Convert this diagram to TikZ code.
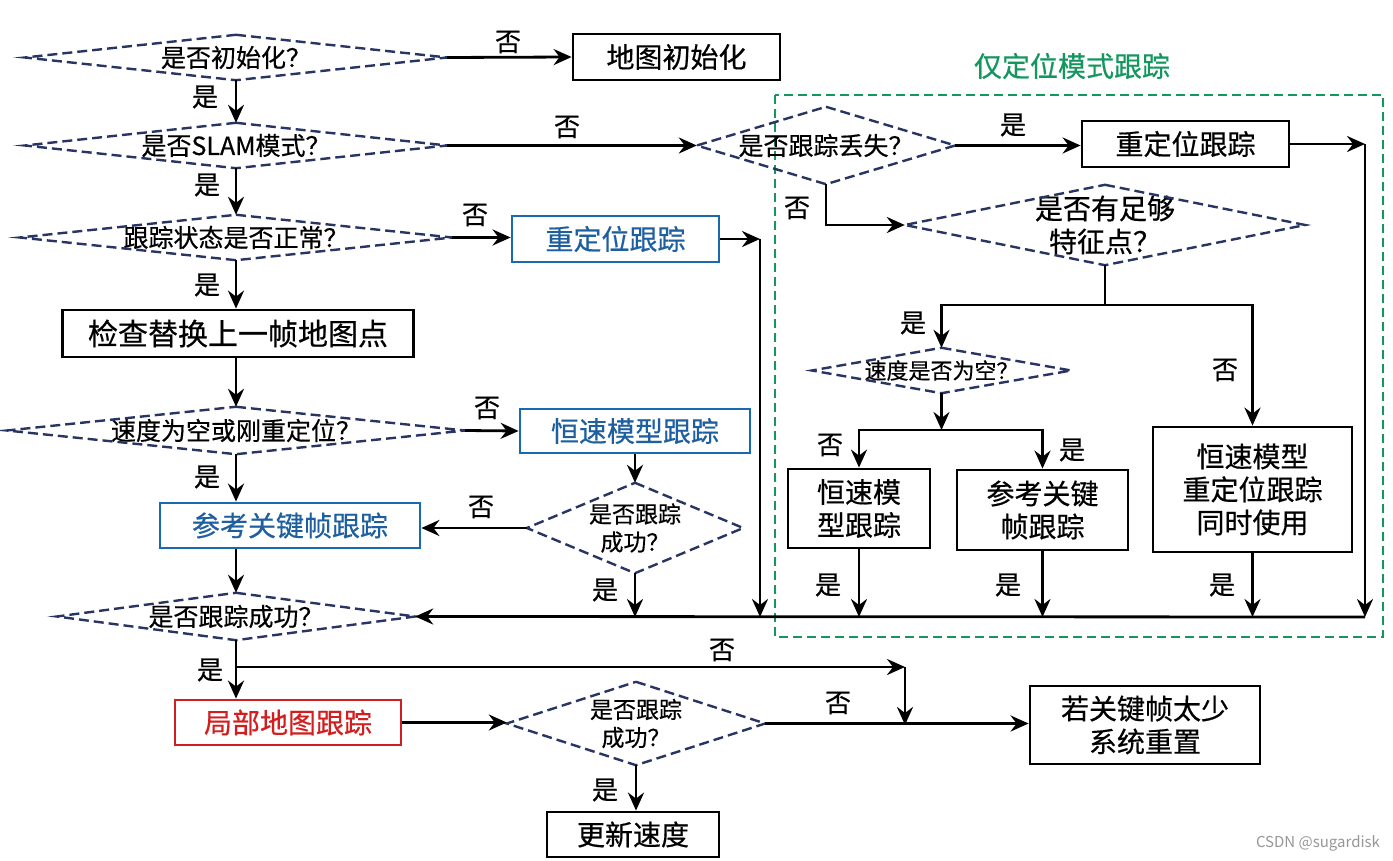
\documentclass[tikz,border=0pt]{standalone}
\usepackage{fontspec}
\setmainfont[FakeBold=0.5,AutoFakeBold=0.5]{Noto Sans CJK SC}
\newfontfamily\wmfont{Noto Sans CJK SC}
\usetikzlibrary{arrows.meta}
\definecolor{navy}{RGB}{40,52,98}
\definecolor{bblue}{RGB}{25,105,175}
\definecolor{tblue}{RGB}{30,95,160}
\definecolor{rred}{RGB}{210,30,30}
\definecolor{ggreen}{RGB}{20,150,95}
\definecolor{wgrey}{RGB}{150,150,150}
\begin{document}
\begin{tikzpicture}[x=1pt,y=-1pt,
  box/.style={draw=black, line width=2.8pt, inner sep=0pt, font=\fontsize{28}{33}\selectfont, align=center},
  bluebox/.style={box, draw=bblue, text=tblue},
  redbox/.style={box, draw=rred, text=rred},
  dia/.style={inner sep=0pt, font=\fontsize{25}{30}\selectfont, align=center},
  diaedge/.style={draw=navy, line width=2.4pt, dash pattern=on 10pt off 5pt, line join=miter},
  ln/.style={line width=2.8pt},
  arr/.style={line width=2.8pt, -{Stealth[length=18pt,width=16pt,inset=6pt]}},
  lab/.style={inner sep=0pt, font=\fontsize{26}{30}\selectfont}
]
\useasboundingbox (0,0) rectangle (1393,861);

% group frame
\draw[ggreen, line width=2.8pt, dash pattern=on 9pt off 5pt] (775,95) rectangle (1383,637);
\node[text=ggreen, font=\fontsize{28}{33}\selectfont] (title) at (1072,66) {仅定位模式跟踪};

% boxes
\node[box, minimum width=207, minimum height=46] (binit) at (676.5,57) {地图初始化};
\node[box, minimum width=351, minimum height=47, font=\fontsize{30}{34}\selectfont] (bcheck) at (238,333.5) {检查替换上一帧地图点};
\node[bluebox, minimum width=260, minimum height=45] (bref) at (290,525.5) {参考关键帧跟踪};
\node[redbox, minimum width=226, minimum height=45] (blocal) at (288,722.5) {局部地图跟踪};
\node[box, minimum width=230, minimum height=78] (breset) at (1145,725) {若关键帧太少\\系统重置};
\node[box, minimum width=172, minimum height=45] (bspeed) at (633,834.5) {更新速度};
\node[bluebox, minimum width=207, minimum height=46] (breloca) at (615.5,239) {重定位跟踪};
\node[bluebox, minimum width=230, minimum height=44] (bcv) at (635,431) {恒速模型跟踪};
\node[box, minimum width=207, minimum height=46] (brelocb) at (1185.5,144) {重定位跟踪};
\node[box, minimum width=142, minimum height=79] (bcvb) at (859,508.5) {恒速模\\型跟踪};
\node[box, minimum width=171, minimum height=80] (brefb) at (1042.5,510) {参考关键\\帧跟踪};
\node[box, minimum width=199, minimum height=125] (bboth) at (1252.5,489.5) {恒速模型\\重定位跟踪\\同时使用};

% decisions
\node[dia, minimum width=422, minimum height=45] (d1) at (236,57.5) {是否初始化？};
\node[dia, minimum width=422, minimum height=45] (d2) at (236,145.5) {是否SLAM模式？};
\node[dia, minimum width=432, minimum height=45] (d3) at (236,237.5) {跟踪状态是否正常？};
\node[dia, minimum width=458, minimum height=47] (d4) at (236,430.5) {速度为空或刚重定位？};
\node[dia, minimum width=358, minimum height=47] (d5) at (236,616.5) {是否跟踪成功？};
\node[dia, minimum width=258, minimum height=83, font=\fontsize{23}{28}\selectfont] (d6) at (636,723.5) {是否跟踪\\成功？};
\node[dia, minimum width=258, minimum height=77] (d7) at (826,145.5) {是否跟踪丢失？};
\node[dia, minimum width=400, minimum height=80, font=\fontsize{28}{33}\selectfont] (d8) at (1105,225) {是否有足够\\特征点？};
\node[dia, minimum width=259, minimum height=45, font=\fontsize{22}{26}\selectfont] (d9) at (941.5,370.5) {速度是否为空？};
\node[dia, minimum width=216, minimum height=90, font=\fontsize{23}{28}\selectfont] (d10) at (635,528) {是否跟踪\\成功？};
\foreach \n in {d1,d2,d3,d4,d5,d6,d7,d8,d9,d10}
  \draw[diaedge] (\n.north) -- (\n.east) -- (\n.south) -- (\n.west) -- cycle;

% junction points
\coordinate (ret) at (1365,617);
\coordinate (ra) at (760,239);
\coordinate (rb) at (1365,144);
\coordinate (j1) at (1105,305);
\coordinate (j2) at (941.5,430);
\coordinate (j3) at (236,667);
\coordinate (j4) at (905,667);

% main column
\draw[arr] (d1.east) -- (binit.west);
\draw[arr] (d1.south) -- (d2.north);
\draw[arr] (d2.east) -- (d7.west);
\draw[arr] (d2.south) -- (d3.north);
\draw[arr] (d3.east) -- (d3.east -| breloca.west);
\draw[arr] (d3.south) -- (d3.south |- bcheck.north);
\draw[arr] (d4.north |- bcheck.south) -- (d4.north);
\draw[arr] (d4.east) -- (bcv.west);
\draw[arr] (d4.south) -- (d4.south |- bref.north);
\draw[arr] (bcv.south) -- (d10.north);
\draw[arr] (d10.west) -- (d10.west -| bref.east);
\draw[arr] (d10.south) -- (d10.south |- ret);
\draw[arr] (d5.north |- bref.south) -- (d5.north);
\draw[arr] (breloca.east) -- (ra);
\draw[arr] (ra) -- (ra |- ret);
\draw[arr] (ret) -- (d5.east);
\draw[arr] (d5.south) -- (d5.south |- blocal.north);
\draw[arr] (j3) -- (j4);
\draw[arr] (j4) -- (j4 |- breset.west);
\draw[arr] (blocal.east) -- (blocal.east -| d6.west);
\draw[arr] (d6.east) -- (d6.east -| breset.west);
\draw[arr] (d6.south) -- (d6.south |- bspeed.north);

% localization-only branch
\draw[arr] (d7.east) -- (d7.east -| brelocb.west);
\draw[arr] (brelocb.east) -- (rb);
\draw[arr] (rb) -- (ret);
\draw[arr] (d7.south) |- (d8.west);
\draw[ln] (d8.south) -- (j1);
\draw[arr] (j1) -| (d9.north);
\draw[arr] (j1) -| (bboth.north);
\draw[arr] (d9.south) -- (j2);
\draw[arr] (j2) -| (bcvb.north);
\draw[arr] (j2) -| (brefb.north);
\draw[arr] (bcvb.south) -- (bcvb.south |- ret);
\draw[arr] (brefb.south) -- (brefb.south |- ret);
\draw[arr] (bboth.south) -- (bboth.south |- ret);

% labels
\node[lab] (l1) at (508,42) {否};
\node[lab] (l2) at (205,97) {是};
\node[lab] (l3) at (567,127) {否};
\node[lab] (l4) at (207,185) {是};
\node[lab] (l5) at (475,215) {否};
\node[lab] (l6) at (207,285) {是};
\node[lab] (l7) at (487,408) {否};
\node[lab] (l8) at (207,477) {是};
\node[lab] (l9) at (481,507) {否};
\node[lab] (l10) at (605,590) {是};
\node[lab] (l11) at (210,670) {是};
\node[lab] (l12) at (722,650) {否};
\node[lab] (l13) at (838,703) {否};
\node[lab] (l14) at (605,790) {是};
\node[lab] (l15) at (1013,125) {是};
\node[lab] (l16) at (797,208) {否};
\node[lab] (l17) at (913,323) {是};
\node[lab] (l18) at (1225,370) {否};
\node[lab] (l19) at (830,445) {否};
\node[lab] (l20) at (1072,450) {是};
\node[lab] (l21) at (828,585) {是};
\node[lab] (l22) at (1008,585) {是};
\node[lab] (l23) at (1222,585) {是};

\node[text=wgrey, font=\wmfont\fontsize{15}{18}\selectfont] (wm) at (1318,843) {CSDN @sugardisk};
\end{tikzpicture}
\end{document}
